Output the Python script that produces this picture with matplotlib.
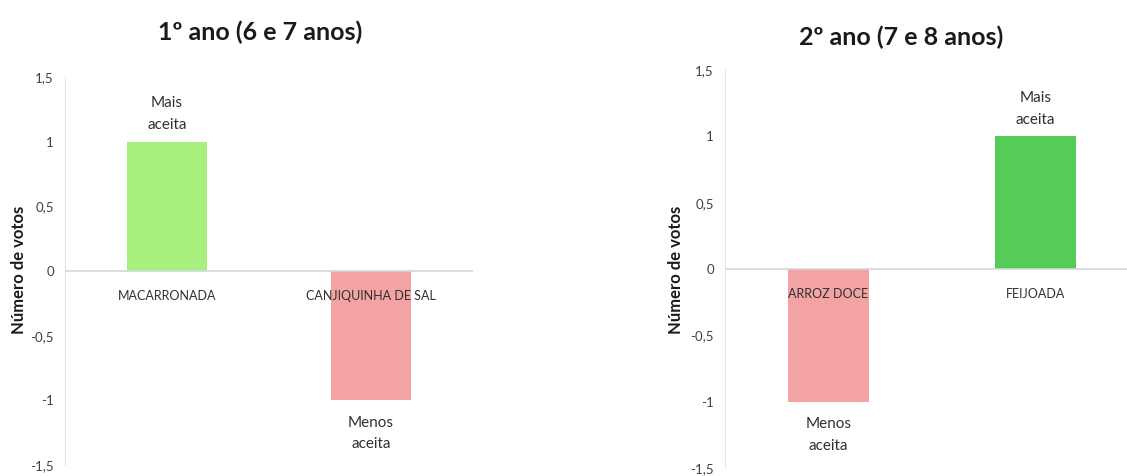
import matplotlib
matplotlib.use('Agg')
import matplotlib.pyplot as plt
from matplotlib.ticker import FuncFormatter

# =============================================================================
# DADOS
# =============================================================================

titulo_1 = "1º ano (6 e 7 anos)"
categorias_1 = ['MACARRONADA', 'CANJIQUINHA DE SAL']
votos_1 = [1, -1]
cores_1 = ['#a8f07e', '#f3a3a3']

titulo_2 = "2º ano (7 e 8 anos)"
categorias_2 = ['ARROZ DOCE', 'FEIJOADA']
votos_2 = [-1, 1]
cores_2 = ['#f3a3a3', '#55cc55']

y_ticks = [-1.5, -1, -0.5, 0, 0.5, 1, 1.5]

plt.rcParams['font.family'] = ['Lato', 'DejaVu Sans']

W, H = 1127, 476
fig = plt.figure(figsize=(W / 100, H / 100), dpi=100)


def fmt_virgula(v, pos):
    return f"{v:g}".replace('.', ',')


def painel(ax, categorias, votos, cores, xmax):
    x = list(range(len(categorias)))
    ax.bar(x, votos, width=0.39, color=cores, zorder=2)
    ax.set_xlim(-0.5, xmax)
    ax.set_ylim(-1.5, 1.5)
    ax.set_yticks(y_ticks)
    ax.yaxis.set_major_formatter(FuncFormatter(fmt_virgula))
    ax.tick_params(axis='y', length=0, pad=8, labelsize=9.5, labelcolor='#404040')
    ax.set_xticks([])
    for s in ['top', 'right', 'bottom']:
        ax.spines[s].set_visible(False)
    ax.spines['left'].set_color('#e4e4e4')
    ax.axhline(0, color='#cfd8de', linewidth=1.2, zorder=3)
    for xi, cat, v in zip(x, categorias, votos):
        ax.annotate(cat, (xi, 0), xytext=(0, -18), textcoords='offset points',
                    ha='center', va='center', fontsize=9, color='#303030', zorder=4)
        if v > 0:
            ax.annotate("Mais\naceita", (xi, v), xytext=(0, 7), textcoords='offset points',
                        ha='center', va='bottom', fontsize=11, color='#303030',
                        linespacing=1.7)
        else:
            ax.annotate("Menos\naceita", (xi, v), xytext=(0, -11), textcoords='offset points',
                        ha='center', va='top', fontsize=11, color='#303030',
                        linespacing=1.7)


# painel esquerdo
ax1 = fig.add_axes([65 / W, (H - 465) / H, 408 / W, 388 / H])
painel(ax1, categorias_1, votos_1, cores_1, 1.5)

# painel direito (cortado na borda direita, como no original)
ax2 = fig.add_axes([725 / W, (H - 468) / H, 402 / W, 398 / H])
painel(ax2, categorias_2, votos_2, cores_2, -0.5 + 402 / 207)

fig.text(260 / W, 1 - 32 / H, titulo_1, ha='center', va='center',
         fontsize=18, fontweight='bold', color='#1a1a1a')
fig.text(901 / W, 1 - 37 / H, titulo_2, ha='center', va='center',
         fontsize=18, fontweight='bold', color='#1a1a1a')

fig.text(19 / W, 1 - 270 / H, "Número de votos", rotation=90, ha='center', va='center',
         fontsize=12, fontweight='bold', color='#1a1a1a')
fig.text(676 / W, 1 - 270 / H, "Número de votos", rotation=90, ha='center', va='center',
         fontsize=12, fontweight='bold', color='#1a1a1a')

fig.savefig('out.png', dpi=100)
